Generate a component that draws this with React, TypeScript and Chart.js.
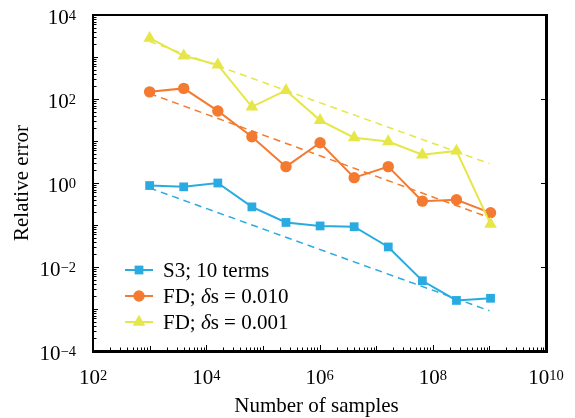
import React, { useEffect, useRef } from "react";
import { Chart, registerables } from "chart.js";

Chart.register(...registerables);

// ---- data ----
const samples = [1e3, 4e3, 1.6e4, 6.4e4, 2.56e5, 1.024e6, 4.096e6, 1.6384e7, 6.5536e7, 2.62144e8, 1.048576e9];
const s3Err = [0.87, 0.81, 1.0, 0.27, 0.115, 0.095, 0.091, 0.03, 0.0047, 0.0016, 0.0018];
const fd010Err = [148, 179, 52, 12.6, 2.45, 9.1, 1.34, 2.45, 0.37, 0.4, 0.195];
const fd001Err = [2800, 1070, 650, 65, 160, 31, 12, 9.7, 4.7, 5.8, 0.105];

const fitSamples = [1e3, 1e9];
const s3Fit = [0.76, 9.1e-4];
const fd010Fit = [135, 0.15];
const fd001Fit = [2340, 2.9];

const xTickExps = [2, 4, 6, 8, 10];
const yTickExps = [-4, -2, 0, 2, 4];

const seriesLabels = ["S3; 10 terms", "FD; δs = 0.010", "FD; δs = 0.001"];
const xTitle = "Number of samples";
const yTitle = "Relative error";

// ---- styles ----
const BLUE = "rgb(41,171,226)";
const ORANGE = "rgb(243,122,48)";
const YELLOW = "rgb(230,230,72)";
const FONT = '"Liberation Serif", "Times New Roman", serif';
const seriesColors = [BLUE, ORANGE, YELLOW];
const seriesStyles = ["rect", "circle", "triangle"];
const seriesRadius = [6.2, 5.7, 7.3];

function pts(xs: number[], ys: number[]) {
  return xs.map((x, i) => ({ x, y: ys[i] }));
}

function drawMarker(ctx: CanvasRenderingContext2D, style: string, r: number, x: number, y: number, color: string) {
  ctx.fillStyle = color;
  ctx.beginPath();
  if (style === "rect") {
    const s = Math.SQRT1_2 * r;
    ctx.rect(x - s, y - s, 2 * s, 2 * s);
  } else if (style === "circle") {
    ctx.arc(x, y, r, 0, Math.PI * 2);
  } else {
    let rad = 0;
    ctx.moveTo(x + Math.sin(rad) * r, y - Math.cos(rad) * r);
    rad += (2 * Math.PI) / 3;
    ctx.lineTo(x + Math.sin(rad) * r, y - Math.cos(rad) * r);
    rad += (2 * Math.PI) / 3;
    ctx.lineTo(x + Math.sin(rad) * r, y - Math.cos(rad) * r);
    ctx.closePath();
  }
  ctx.fill();
}

function drawPow(ctx: CanvasRenderingContext2D, exp: number, x: number, baseline: number, align: "right" | "center") {
  const base = "10";
  const ex = exp < 0 ? "\u2212" + Math.abs(exp) : String(exp);
  ctx.font = `21px ${FONT}`;
  const wb = ctx.measureText(base).width;
  ctx.font = `14.5px ${FONT}`;
  const we = ctx.measureText(ex).width;
  const total = wb + we;
  const sx = align === "right" ? x - total : x - total / 2;
  ctx.textAlign = "left";
  ctx.textBaseline = "alphabetic";
  ctx.fillStyle = "#000";
  ctx.font = `21px ${FONT}`;
  ctx.fillText(base, sx, baseline);
  ctx.font = `14.5px ${FONT}`;
  ctx.fillText(ex, sx + wb, baseline - 4.5);
}

const customAxes = {
  id: "customAxes",
  afterDraw(chart: any) {
    const ctx: CanvasRenderingContext2D = chart.ctx;
    const { left, right, top, bottom } = chart.chartArea;
    const xs = chart.scales.x;
    const ys = chart.scales.y;
    ctx.save();
    ctx.strokeStyle = "#000";
    ctx.lineWidth = 1;

    // y ticks (left, inward)
    const yMin = Math.round(Math.log10(ys.min));
    const yMax = Math.round(Math.log10(ys.max));
    ctx.beginPath();
    for (let e = yMin; e < yMax; e++) {
      for (let m = 1; m < 10; m++) {
        const py = Math.round(ys.getPixelForValue(m * Math.pow(10, e))) + 0.5;
        const len = m === 1 ? (yTickExps.includes(e) ? 6 : 5) : 3.5;
        ctx.moveTo(left, py);
        ctx.lineTo(left + len, py);
      }
    }
    // right ticks at labelled decades
    for (const e of yTickExps) {
      const py = Math.round(ys.getPixelForValue(Math.pow(10, e))) + 0.5;
      ctx.moveTo(right, py);
      ctx.lineTo(right - 5, py);
    }
    // x ticks (bottom, inward)
    const xMin = Math.round(Math.log10(xs.min));
    const xMax = Math.round(Math.log10(xs.max));
    for (let e = xMin; e < xMax; e++) {
      for (let m = 1; m < 10; m++) {
        const px = Math.round(xs.getPixelForValue(m * Math.pow(10, e))) + 0.5;
        const len = m === 1 ? (xTickExps.includes(e) ? 6 : 5) : 3.5;
        ctx.moveTo(px, bottom);
        ctx.lineTo(px, bottom - len);
      }
    }
    ctx.stroke();

    // frame
    ctx.fillStyle = "#000";
    ctx.fillRect(left - 1, top - 1, 2, bottom - top + 2);
    ctx.fillRect(left - 1, top - 1, right - left + 2, 2);
    ctx.fillRect(right - 1, top - 1, 3, bottom - top + 3);
    ctx.fillRect(left - 1, bottom - 1, right - left + 3, 3);

    // tick labels
    for (const e of yTickExps) {
      const py = ys.getPixelForValue(Math.pow(10, e));
      drawPow(ctx, e, 76, py + 9, "right");
    }
    for (const e of xTickExps) {
      const px = xs.getPixelForValue(Math.pow(10, e));
      drawPow(ctx, e, px, 384, "center");
    }

    // axis titles
    ctx.fillStyle = "#000";
    ctx.font = `21px ${FONT}`;
    ctx.textAlign = "center";
    ctx.textBaseline = "alphabetic";
    ctx.fillText(xTitle, (left + right) / 2 - 3, 412);
    ctx.save();
    ctx.translate(28, (top + bottom) / 2);
    ctx.rotate(-Math.PI / 2);
    ctx.fillText(yTitle, 0, 0);
    ctx.restore();

    // legend
    const rows = [270, 296, 322];
    seriesLabels.forEach((label, i) => {
      const y = rows[i];
      ctx.strokeStyle = seriesColors[i];
      ctx.lineWidth = 2;
      ctx.beginPath();
      ctx.moveTo(125, y);
      ctx.lineTo(153, y);
      ctx.stroke();
      drawMarker(ctx, seriesStyles[i], seriesRadius[i], 139, y, seriesColors[i]);
      ctx.fillStyle = "#000";
      ctx.textAlign = "left";
      ctx.textBaseline = "alphabetic";
      let tx = 163;
      const parts = label.split("δ");
      ctx.font = `21px ${FONT}`;
      ctx.fillText(parts[0], tx, y + 7);
      tx += ctx.measureText(parts[0]).width;
      if (parts.length > 1) {
        ctx.font = `italic 21px ${FONT}`;
        ctx.fillText("δ", tx, y + 7);
        tx += ctx.measureText("δ").width;
        ctx.font = `21px ${FONT}`;
        ctx.fillText(parts[1], tx, y + 7);
      }
    });
    ctx.restore();
  },
};

export default function App() {
  const ref = useRef<HTMLCanvasElement | null>(null);
  useEffect(() => {
    if (!ref.current) return;
    const solid = (data: number[], i: number, order: number) => ({
      label: seriesLabels[i],
      data: pts(samples, data),
      borderColor: seriesColors[i],
      backgroundColor: seriesColors[i],
      borderWidth: 2,
      pointStyle: seriesStyles[i],
      pointRadius: seriesRadius[i],
      pointBorderWidth: 0,
      pointBackgroundColor: seriesColors[i],
      tension: 0,
      order,
    });
    const fit = (data: number[], i: number) => ({
      label: seriesLabels[i] + " fit",
      data: pts(fitSamples, data),
      borderColor: seriesColors[i],
      borderWidth: 1.5,
      borderDash: [7, 5],
      pointRadius: 0,
      tension: 0,
      order: 10,
    });
    const chart = new Chart(ref.current, {
      type: "line",
      data: {
        datasets: [
          fit(s3Fit, 0),
          fit(fd010Fit, 1),
          fit(fd001Fit, 2),
          solid(s3Err, 0, 3),
          solid(fd010Err, 1, 2),
          solid(fd001Err, 2, 1),
        ] as any,
      },
      options: {
        animation: false,
        responsive: false,
        devicePixelRatio: 1,
        layout: { padding: { left: 93, top: 15, right: 29, bottom: 67 } },
        plugins: { legend: { display: false }, tooltip: { enabled: false } },
        scales: {
          x: { type: "logarithmic", min: 1e2, max: 1e10, display: false },
          y: { type: "logarithmic", min: 1e-4, max: 1e4, display: false },
        },
      } as any,
      plugins: [customAxes],
    });
    return () => chart.destroy();
  }, []);
  return (
    <div style={{ position: "absolute", left: 0, top: 0, width: 575, height: 418, background: "#fff" }}>
      <canvas ref={ref} width={575} height={418} style={{ display: "block" }} />
    </div>
  );
}
